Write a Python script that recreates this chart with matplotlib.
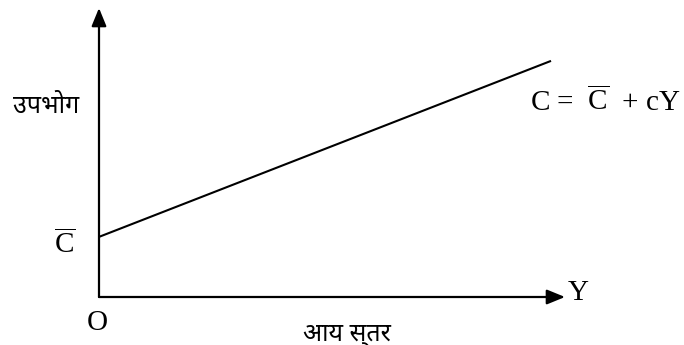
import matplotlib
matplotlib.use("Agg")
import matplotlib.pyplot as plt
from matplotlib import font_manager

# consumption function C = C_bar + cY, two end points
income = [0.0, 9.7]
consumption = [2.08, 8.17]

y_label = "उपभोग"
x_label = "आय स्तर"
serif = "Liberation Serif"

installed = {f.name for f in font_manager.fontManager.ttflist}
hindi = next((n for n in ["Noto Sans Devanagari", "Hind", "Mukta", "Yantramanav",
                          "Sarala", "Amiko", "Annapurna SIL"] if n in installed), "DejaVu Sans")

plt.rcParams["mathtext.fontset"] = "custom"
plt.rcParams["mathtext.rm"] = serif
plt.rcParams["mathtext.it"] = serif

fig = plt.figure(figsize=(6.84, 3.45), dpi=100)
W, H = 684, 345
ax = fig.add_axes([99 / W, (H - 297) / H, (565 - 99) / W, (297 - 8) / H])
ax.set_xlim(0, 10)
ax.set_ylim(0, 10)
ax.axis("off")

# axes with arrow heads
arrow = dict(arrowstyle="-|>,head_length=1.1,head_width=0.45", lw=1.6, color="black",
             shrinkA=0, shrinkB=0)
ax.annotate("", xy=(1, 0), xytext=(0, 0), xycoords="axes fraction", arrowprops=arrow)
ax.annotate("", xy=(0, 1), xytext=(0, 0), xycoords="axes fraction", arrowprops=arrow)

ax.plot(income, consumption, color="black", lw=1.5, solid_capstyle="butt")

fs = 21
ax.text(-0.73, 1.52, r"$\overline{\mathrm{C}}$", fontsize=fs,
        family=serif, ha="center", va="baseline")
ax.text(-0.04, -1.14, "O", fontsize=fs, family=serif, ha="center", va="baseline")
ax.text(10.06, -0.1, "Y", fontsize=fs, family=serif, ha="left", va="baseline")
ax.text(9.25, 6.44, r"C =  $\overline{\mathrm{C}}$  + cY", fontsize=fs, family=serif,
        ha="left", va="baseline")

ax.text(-1.85, 6.6, y_label, fontsize=18, family=hindi, ha="left", va="center")
ax.text(5.33, -1.3, x_label, fontsize=18, family=hindi, ha="center", va="center")

fig.savefig("out.png", dpi=100)
